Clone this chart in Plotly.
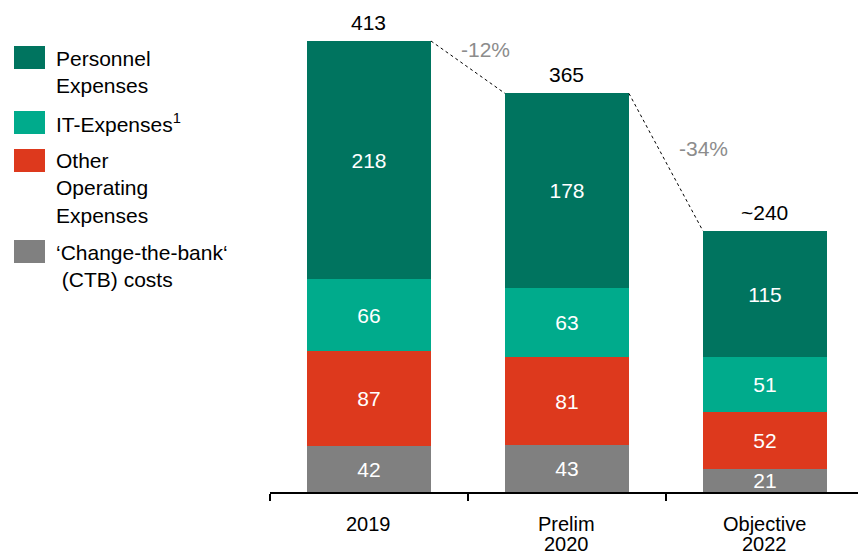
import plotly.graph_objects as go

categories = ["2019", "Prelim<br>2020", "Objective<br>2022"]
series_names = ["‘Change-the-bank‘", "Other Operating Expenses", "IT-Expenses", "Personnel Expenses"]
ctb = [42, 43, 21]
other = [87, 81, 52]
it = [66, 63, 51]
personnel = [218, 178, 115]
total_labels = ["413", "365", "~240"]
change_labels = ["-12%", "-34%"]

legend_labels = [
    "Personnel<br>Expenses",
    "IT-Expenses<sup>1</sup>",
    "Other<br>Operating<br>Expenses",
    "‘Change-the-bank‘<br>\u00a0(CTB) costs",
]

colors = {"personnel": "#00745F", "it": "#00AB8C", "other": "#DD391D", "ctb": "#808080"}
FONT = "Liberation Sans, Arial, sans-serif"
FS = 21

W, H = 858, 555
ML, MR, MT, MB = 270, 0, 0, 63
PW, PH = W - ML - MR, H - MT - MB
BAR_W = 0.626

def px_x(x):
    return (x - ML) / PW

def px_y(y):
    return (H - MB - y) / PH

xs = list(range(len(categories)))
fig = go.Figure()
for vals, key, name in [(ctb, "ctb", series_names[0]), (other, "other", series_names[1]),
                        (it, "it", series_names[2]), (personnel, "personnel", series_names[3])]:
    fig.add_trace(go.Bar(
        x=xs, y=vals, name=name, width=BAR_W,
        marker=dict(color=colors[key], line=dict(width=0)),
        text=[str(v) for v in vals], textposition="inside", insidetextanchor="middle",
        textfont=dict(color="white", size=FS, family=FONT),
        showlegend=False, hoverinfo="skip",
    ))

totals = [a + b + c + d for a, b, c, d in zip(ctb, other, it, personnel)]

# connectors
for i in range(len(xs) - 1):
    fig.add_trace(go.Scatter(
        x=[xs[i] + BAR_W / 2, xs[i + 1] - BAR_W / 2], y=[totals[i], totals[i + 1]],
        mode="lines", line=dict(color="black", width=1, dash="dot"),
        showlegend=False, hoverinfo="skip",
    ))

annotations = []
for i, t in enumerate(totals):
    annotations.append(dict(x=xs[i], y=t, text=total_labels[i], showarrow=False,
                            yanchor="bottom", yshift=5,
                            font=dict(size=FS, color="black", family=FONT)))

change_pos = [(0.59, 405), (1.69, 315)]
for (cx, cy), lab in zip(change_pos, change_labels):
    annotations.append(dict(x=cx, y=cy, text=lab, showarrow=False,
                            font=dict(size=FS, color="#8C8C8C", family=FONT)))

# category labels (tight line spacing as in reference)
line_y = [524, 544]
for i, cat in enumerate(categories):
    for j, line in enumerate(cat.split("<br>")):
        annotations.append(dict(x=xs[i], xref="x", yref="paper", y=px_y(line_y[j]),
                                text=line, showarrow=False, yanchor="middle", borderpad=0,
                                font=dict(size=20, color="black", family=FONT)))

# legend (manual)
legend_items = [
    ("personnel", 46, 69, 72),
    ("it", 111, 134, 123),
    ("other", 149, 172, 188),
    ("ctb", 240, 263, 266),
]
shapes = []
for (key, y0, y1, ty), lab in zip(legend_items, legend_labels):
    shapes.append(dict(type="rect", xref="paper", yref="paper",
                       x0=px_x(14), x1=px_x(45), y0=px_y(y1), y1=px_y(y0),
                       fillcolor=colors[key], line=dict(width=0)))
    annotations.append(dict(xref="paper", yref="paper", x=px_x(54), y=px_y(ty),
                            xanchor="left", yanchor="middle", align="left",
                            text=lab, showarrow=False,
                            font=dict(size=FS, color="black", family=FONT)))

fig.update_layout(
    barmode="stack",
    width=W, height=H,
    margin=dict(l=ML, r=MR, t=MT, b=MB, autoexpand=False),
    paper_bgcolor="white", plot_bgcolor="white",
    font=dict(family=FONT, size=FS, color="black"),
    shapes=shapes, annotations=annotations,
    uniformtext=dict(minsize=FS, mode="show"),
    bargap=0,
)
fig.update_xaxes(
    range=[-0.5, 2.47], tickmode="array", tickvals=xs, showticklabels=False,
    showline=True, linecolor="black", linewidth=1.5,
    ticks="", showgrid=False, zeroline=False, automargin=False,
)
fig.update_xaxes(minor=dict(tickvals=[-0.5, 0.5, 1.5, 2.5], ticks="outside", ticklen=7,
                            tickcolor="black", tickwidth=1.5))
fig.update_yaxes(range=[0, PH / 1.092], visible=False, showgrid=False, zeroline=False,
                 automargin=False)

fig.write_html("out.html")
